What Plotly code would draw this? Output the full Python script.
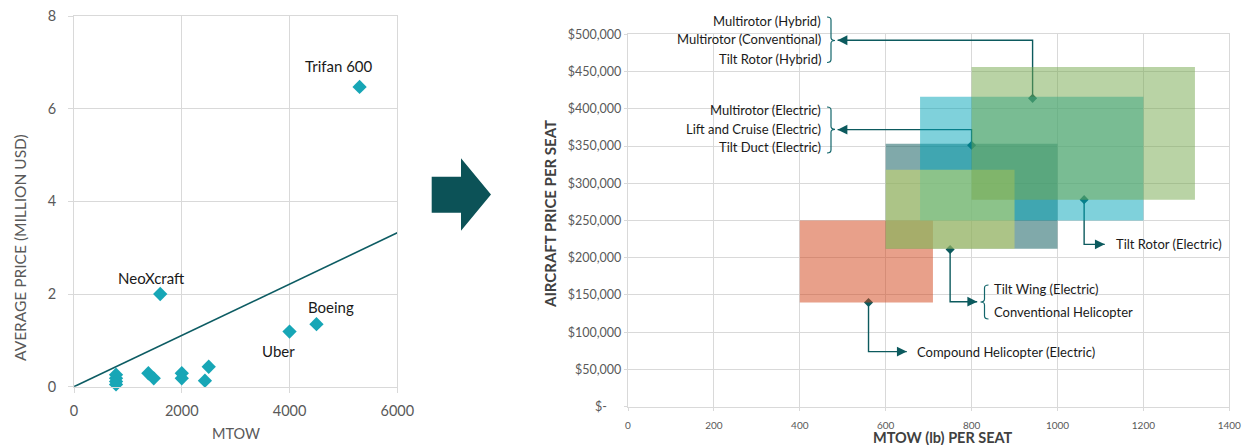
import numpy as np
import plotly.graph_objects as go

W, H = 1243, 445
FONT = "Lato"
GRID = "#d9d9d9"
TEAL = "#0c5a5e"

# ---- left chart: average price vs MTOW ----
mtow = [5300, 1600, 4500, 4000, 780, 780, 780, 780, 1380, 1480, 2000, 2000, 2430, 2500]
avg_price = [6.47, 2.0, 1.35, 1.19, 0.26, 0.18, 0.11, 0.05, 0.29, 0.18, 0.29, 0.18, 0.13, 0.43]
point_names = ["Trifan 600", "NeoXcraft", "Boeing", "Uber", "", "", "", "", "", "", "", "", "", ""]
mtow_ticks = [0, 2000, 4000, 6000]
avg_ticks = [0, 2, 4, 6, 8]

# ---- right chart: price per seat vs MTOW per seat ----
box_x0 = [400, 600, 680, 600, 800]
box_x1 = [710, 1000, 1200, 900, 1320]
box_y0 = [140000, 212000, 250000, 212000, 278000]
box_y1 = [250000, 353000, 416000, 318000, 456000]
box_colors = ["rgba(209,65,21,0.5)", "rgba(1,83,85,0.5)", "rgba(0,163,183,0.5)",
              "rgba(216,223,100,0.5)", "rgba(115,167,75,0.5)"]

mark_x = [560, 800, 1062, 750, 942]
mark_y = [140000, 351000, 278000, 211000, 414000]

seat_ticks = [0, 200, 400, 600, 800, 1000, 1200, 1400]
price_ticks = [0, 50000, 100000, 150000, 200000, 250000, 300000, 350000, 400000, 450000, 500000]
price_tick_text = ["$-\u2007\u2007", "$50,000", "$100,000", "$150,000", "$200,000", "$250,000",
                   "$300,000", "$350,000", "$400,000", "$450,000", "$500,000"]

# callouts: elbow height and arrow end for each marker
elbow_y = [74000, 372000, 218000, 141000, 492000]
arrow_end_x = [649, 488, 1110, 813, 488]
# label text, x pixel, y pixels, alignment
labels_right = [
    (["Compound Helicopter (Electric)"], 915, [351.7], "left"),
    (["Multirotor (Electric)", "Lift and Cruise (Electric)", "Tilt Duct (Electric)"], 822.7, [110.3, 128.7, 147], "right"),
    (["Tilt Rotor (Electric)"], 1114.3, [244.3], "left"),
    (["Tilt Wing (Electric)", "Conventional Helicopter"], 992.3, [288.7, 311.7], "left"),
    (["Multirotor (Hybrid)", "Multirotor (Conventional)", "Tilt Rotor (Hybrid)"], 822.7, [20.7, 39, 58.7], "right"),
]


def px(x):
    return x / W


def py(y):
    return 1 - y / H


def pathpx(pts, close=False):
    s = "M " + " L ".join(f"{px(a):.5f},{py(b):.5f}" for a, b in pts)
    return s + (" Z" if close else "")


def brace(xl, xm, xr, top, mid, bot, r=3):
    # curly bracket; xl = curl side, xr = point side
    return (f"M {px(xl)},{py(top)} Q {px(xm)},{py(top)} {px(xm)},{py(top + r)} "
            f"L {px(xm)},{py(mid - r)} Q {px(xm)},{py(mid)} {px(xr)},{py(mid)} "
            f"Q {px(xm)},{py(mid)} {px(xm)},{py(mid + r)} "
            f"L {px(xm)},{py(bot - r)} Q {px(xm)},{py(bot)} {px(xl)},{py(bot)}")


fig = go.Figure()

# left scatter + trend through origin
xs = np.array(mtow, dtype=float)
ys = np.array(avg_price, dtype=float)
slope = (xs * ys).sum() / (xs * xs).sum()
fig.add_trace(go.Scatter(x=[0, 6000], y=[0, slope * 6000], mode="lines",
                         line=dict(color="#0d5c63", width=1.6), xaxis="x", yaxis="y",
                         hoverinfo="skip", showlegend=False))
fig.add_trace(go.Scatter(x=mtow, y=avg_price, mode="markers",
                         marker=dict(symbol="diamond", size=11, color="#17a6b6"),
                         xaxis="x", yaxis="y", showlegend=False, cliponaxis=False))

label_shift = {"Trifan 600": (-21, 21), "NeoXcraft": (-9, 16), "Boeing": (15, 17), "Uber": (-11, -19)}
annotations = []
for x, y, n in zip(mtow, avg_price, point_names):
    if n:
        dx, dy = label_shift[n]
        annotations.append(dict(x=x, y=y, xref="x", yref="y", text=n, showarrow=False,
                                xshift=dx, yshift=dy, font=dict(family=FONT, size=15, color="#1a1a1a")))

# right chart connectors (drawn under the boxes)
for mx, my, ey, ex in zip(mark_x, mark_y, elbow_y, arrow_end_x):
    fig.add_trace(go.Scatter(x=[mx, mx, ex], y=[my, ey, ey], mode="lines",
                             line=dict(color=TEAL, width=1.4), xaxis="x2", yaxis="y2",
                             hoverinfo="skip", showlegend=False))
    d = 1 if ex > mx else -1
    annotations.append(dict(x=ex, y=ey, ax=ex - d * 18, ay=ey, xref="x2", yref="y2",
                            axref="x2", ayref="y2", text="", showarrow=True, arrowhead=2,
                            arrowsize=1.4, arrowwidth=1.4, arrowcolor=TEAL))
fig.add_trace(go.Scatter(x=mark_x, y=mark_y, mode="markers",
                         marker=dict(symbol="diamond", size=7, color=TEAL),
                         xaxis="x2", yaxis="y2", showlegend=False))

for texts, lx, lys, side in labels_right:
    for t, ly in zip(texts, lys):
        annotations.append(dict(x=px(lx), y=py(ly), xref="paper", yref="paper", text=t,
                                showarrow=False, xanchor=side, yanchor="middle",
                                font=dict(family=FONT, size=13, color="#1a1a1a")))

shapes = []
for x0, x1, y0, y1, c in zip(box_x0, box_x1, box_y0, box_y1, box_colors):
    shapes.append(dict(type="rect", xref="x2", yref="y2", x0=x0, x1=x1, y0=y0, y1=y1,
                       fillcolor=c, line=dict(width=0), layer="above"))

# brackets
bl = dict(color="#13666b", width=1.2)
shapes.append(dict(type="path", xref="paper", yref="paper", path=brace(827, 831, 835, 17, 40.5, 62.5), line=bl))
shapes.append(dict(type="path", xref="paper", yref="paper", path=brace(827, 831, 835, 107, 129.3, 153), line=bl))
shapes.append(dict(type="path", xref="paper", yref="paper", path=brace(988.5, 984.5, 980.5, 285, 302, 319), line=bl))

# big arrow between the charts
shapes.append(dict(type="path", xref="paper", yref="paper", fillcolor="#0c5257", line=dict(width=0),
                   path=pathpx([(431.7, 176.7), (461, 176.7), (461, 158.3), (491, 194.5),
                                (461, 230.7), (461, 212.7), (431.7, 212.7)], close=True)))

# axis titles
gray = "#595959"
mid = dict(xref="paper", yref="paper", showarrow=False, xanchor="center", yanchor="middle")
annotations += [
    dict(mid, x=px(236), y=py(433), text="MTOW", font=dict(family=FONT, size=14.5, color=gray)),
    dict(mid, x=px(20), y=py(248), text="AVERAGE PRICE (MILLION USD)", textangle=-90,
         font=dict(family=FONT, size=15.5, color=gray)),
    dict(mid, x=px(943), y=py(437), text="<b>MTOW (lb) PER SEAT</b>",
         font=dict(family=FONT, size=14.5, color="#404040")),
    dict(mid, x=px(550), y=py(214), text="<b>AIRCRAFT PRICE PER SEAT</b>", textangle=-90,
         font=dict(family=FONT, size=15, color="#404040")),
]

ax_common = dict(showgrid=True, gridcolor=GRID, zeroline=False, showline=True, mirror=True,
                 linecolor=GRID, ticks="outside", tickcolor=GRID, automargin=False)

fig.update_layout(
    template="none",
    width=W, height=H, margin=dict(l=0, r=0, t=0, b=0, pad=0),
    paper_bgcolor="white", plot_bgcolor="white",
    font=dict(family=FONT),
    xaxis=dict(ax_common, domain=[px(74), px(397.3)], range=[0, 6000], tickvals=mtow_ticks,
               gridwidth=1, linewidth=1, ticklen=5, ticklabelstandoff=6,
               tickfont=dict(size=14.5, color=gray), anchor="y"),
    yaxis=dict(ax_common, domain=[py(386.7), py(16)], range=[0, 8], tickvals=avg_ticks,
               gridwidth=1, linewidth=1, ticklen=5, ticklabelstandoff=9,
               tickfont=dict(size=14.5, color=gray), anchor="x"),
    xaxis2=dict(ax_common, domain=[px(628), px(1229.3)], range=[0, 1400], tickvals=seat_ticks,
                gridwidth=1.3, linewidth=1.3, ticklen=3, ticklabelstandoff=6,
                tickfont=dict(size=10, color=gray), anchor="y2"),
    yaxis2=dict(ax_common, domain=[py(406.7), py(34.3)], range=[0, 500000], tickvals=price_ticks,
                ticktext=price_tick_text, gridwidth=1.3, linewidth=1.3, ticklen=3,
                ticklabelstandoff=0, tickfont=dict(size=12.5, color=gray), anchor="x2"),
    shapes=shapes,
    annotations=annotations,
)

# the page's default body margin would shift the fixed-size figure
fig.write_html("out.html", config={"displayModeBar": False},
               post_script="document.body.style.margin='0';document.body.style.overflow='hidden';")
